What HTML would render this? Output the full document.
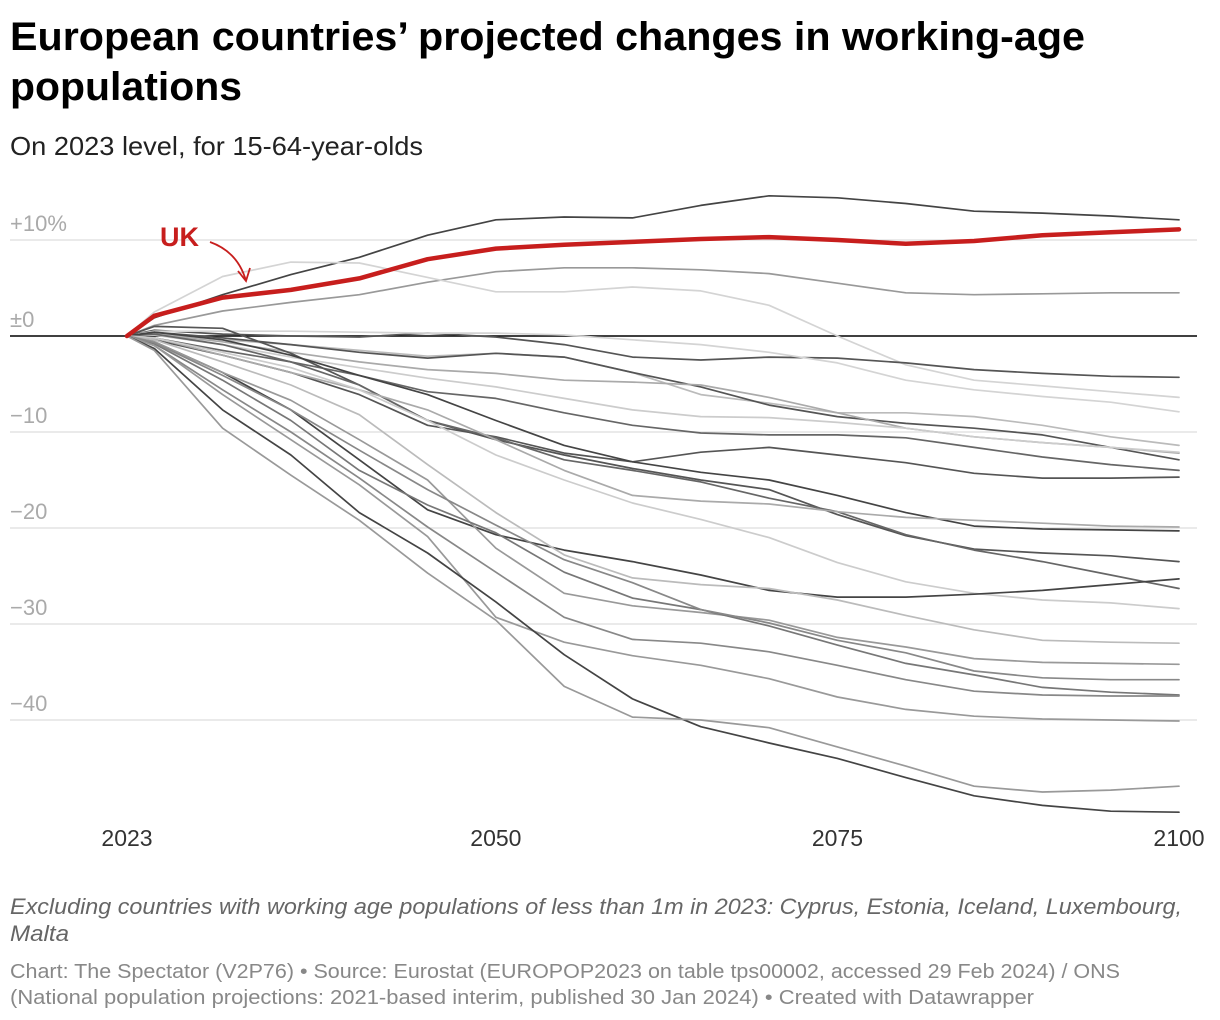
<!DOCTYPE html>
<html><head><meta charset="utf-8"><style>
html,body{margin:0;padding:0;background:#fff;}
svg{display:block;font-family:"Liberation Sans",Arial,sans-serif;}
</style></head><body>
<svg id="chart" width="1220" height="1020" viewBox="0 0 1220 1020" xmlns="http://www.w3.org/2000/svg">
<text x="10" y="50" font-size="40" font-weight="bold" fill="#000" textLength="1075" lengthAdjust="spacingAndGlyphs">European countries’ projected changes in working-age</text>
<text x="10" y="100" font-size="40" font-weight="bold" fill="#000" textLength="232" lengthAdjust="spacingAndGlyphs">populations</text>
<text x="10" y="155" font-size="26" fill="#222" textLength="413" lengthAdjust="spacingAndGlyphs">On 2023 level, for 15-64-year-olds</text>
<g id="grid"></g>
<g id="lines"></g>
<g id="xaxis"></g>
<text x="160" y="246" font-size="27" font-weight="bold" fill="#c71e1d">UK</text>
<path d="M210,242 Q238,252 246,281 M238,271 L246,281 L250,268" fill="none" stroke="#c71e1d" stroke-width="1.8"/>
<text x="10" y="914" font-size="22" font-style="italic" fill="#666" textLength="1172" lengthAdjust="spacingAndGlyphs">Excluding countries with working age populations of less than 1m in 2023: Cyprus, Estonia, Iceland, Luxembourg,</text>
<text x="10" y="941" font-size="22" font-style="italic" fill="#666" textLength="59" lengthAdjust="spacingAndGlyphs">Malta</text>
<text x="10" y="978" font-size="20" fill="#888" textLength="1110" lengthAdjust="spacingAndGlyphs">Chart: The Spectator (V2P76) • Source: Eurostat (EUROPOP2023 on table tps00002, accessed 29 Feb 2024) / ONS</text>
<text x="10" y="1004" font-size="20" fill="#888" textLength="1024" lengthAdjust="spacingAndGlyphs">(National population projections: 2021-based interim, published 30 Jan 2024) • Created with Datawrapper</text>
</svg>
<script>
const years=[2023,2025,2030,2035,2040,2045,2050,2055,2060,2065,2070,2075,2080,2085,2090,2095,2100];
const yTicks=[10,0,-10,-20,-30,-40];
const yTickLabels=["+10%","±0","−10","−20","−30","−40"];
const xTicks=[2023,2050,2075,2100];
const ukValues=[0,2.1,4.0,4.8,6.0,8.0,9.1,9.5,9.8,10.1,10.3,10.0,9.6,9.9,10.5,10.8,11.1];
const s01=[0,1.9,4.3,6.4,8.2,10.5,12.1,12.4,12.3,13.6,14.6,14.4,13.8,13.0,12.8,12.5,12.1];
const s02=[0,1.1,2.6,3.5,4.3,5.6,6.7,7.1,7.1,6.9,6.5,5.5,4.5,4.3,4.4,4.5,4.5];
const s03=[0,2.5,6.2,7.7,7.6,6.1,4.6,4.6,5.1,4.7,3.2,0,-3.0,-4.6,-5.2,-5.8,-6.4];
const s04=[0,0.6,0.2,0,-0.1,0.3,-0.1,-0.9,-2.2,-2.5,-2.2,-2.3,-2.8,-3.5,-3.9,-4.2,-4.3];
const s05=[0,0.5,0.5,0.5,0.4,0.3,0.3,0.1,-0.4,-0.9,-1.7,-2.8,-4.6,-5.6,-6.3,-6.9,-7.9];
const s07=[0,0.3,-0.4,-0.9,-1.5,-2.1,-1.8,-2.2,-3.8,-6.1,-7.0,-8.0,-8.0,-8.4,-9.3,-10.5,-11.4];
const s08=[0,0.4,-0.2,-0.9,-1.7,-2.3,-1.8,-2.2,-3.8,-5.3,-7.2,-8.4,-9.1,-9.6,-10.3,-11.6,-12.9];
const s09=[0,0.2,-0.6,-1.7,-2.7,-3.5,-3.9,-4.6,-4.8,-5.1,-6.4,-8.0,-9.6,-10.5,-11.1,-11.6,-12.2];
const s10=[0,0.1,-0.9,-2.2,-3.3,-4.4,-5.3,-6.5,-7.7,-8.4,-8.5,-9.0,-9.6,-10.5,-11.1,-11.6,-12.1];
const s11=[0,-0.2,-1.5,-2.7,-4.1,-5.8,-6.5,-8.0,-9.3,-10.1,-10.3,-10.3,-10.6,-11.6,-12.6,-13.4,-14.0];
const s12=[0,-0.4,-2.0,-3.8,-6.1,-9.3,-10.5,-12.2,-13.1,-12.1,-11.6,-12.4,-13.2,-14.3,-14.8,-14.8,-14.7];
const sA=[0,1.0,0.8,-1.8,-5.1,-8.8,-10.8,-12.4,-13.8,-15.0,-16.0,-18.6,-20.8,-22.2,-22.6,-22.9,-23.5];
const sB=[0,0.2,-0.9,-2.7,-5.1,-8.8,-10.6,-12.9,-14.0,-15.2,-16.9,-18.3,-20.7,-22.3,-23.5,-24.9,-26.3];
const sC=[0,0.4,-0.4,-2.0,-4.1,-6.1,-8.8,-11.4,-13.1,-14.2,-15.0,-16.6,-18.4,-19.8,-20.1,-20.2,-20.3];
const sD=[0,-0.2,-2.0,-3.8,-5.6,-7.7,-10.8,-14.0,-16.6,-17.2,-17.5,-18.3,-18.9,-19.2,-19.5,-19.8,-19.9];
const sE=[0,-0.2,-1.7,-3.3,-5.6,-8.8,-12.4,-15.0,-17.4,-19.1,-21.0,-23.6,-25.6,-26.8,-27.5,-27.8,-28.4];
const sF=[0,-0.6,-3.8,-7.7,-12.9,-18.1,-20.7,-22.3,-23.5,-24.9,-26.5,-27.2,-27.2,-26.9,-26.5,-25.9,-25.3];
const sG=[0,-0.4,-2.7,-5.1,-8.2,-13.4,-18.4,-22.8,-25.2,-25.9,-26.3,-27.5,-29.1,-30.6,-31.7,-31.9,-32.0];
const sH=[0,-0.6,-3.8,-6.7,-10.8,-15.0,-22.1,-26.8,-28.1,-28.8,-29.6,-31.4,-32.4,-33.6,-34.0,-34.1,-34.2];
const sI=[0,-0.8,-4.6,-8.8,-14.0,-17.6,-20.5,-24.6,-27.3,-28.5,-30.2,-32.2,-34.1,-35.3,-36.6,-37.1,-37.4];
const sJ=[0,-0.7,-4.1,-7.7,-11.9,-16.0,-19.7,-23.3,-25.7,-28.5,-29.9,-31.7,-33.0,-34.9,-35.6,-35.8,-35.8];
const sK=[0,-1.0,-5.6,-10.0,-14.8,-19.9,-24.6,-29.3,-31.6,-32.0,-32.9,-34.3,-35.8,-37.0,-37.4,-37.5,-37.5];
const sL=[0,-1.0,-6.1,-10.8,-15.5,-20.9,-29.3,-31.9,-33.3,-34.3,-35.7,-37.6,-38.9,-39.6,-39.9,-40.0,-40.1];
const sM=[0,-1.3,-7.7,-12.4,-18.4,-22.6,-27.7,-33.2,-37.8,-40.7,-42.4,-44.0,-46.0,-47.9,-48.9,-49.5,-49.6];
const sN=[0,-1.5,-9.6,-14.5,-19.2,-24.7,-29.6,-36.5,-39.7,-40.0,-40.8,-42.8,-44.8,-46.9,-47.5,-47.3,-46.9];
const greySeries=[s01,s02,s03,s04,s05,s07,s08,s09,s10,s11,s12,sA,sB,sC,sD,sE,sF,sG,sH,sI,sJ,sK,sL,sM,sN];
const greyColors=["#444","#999","#d4d4d4","#555","#d4d4d4","#bbb","#555","#aaa","#ccc","#666","#555","#555","#666","#444","#aaa","#ccc","#444","#bbb","#999","#777","#888","#888","#999","#444","#999"];

const NS="http://www.w3.org/2000/svg";
const x=y=>127+(y-2023)*(1179-127)/77;
const y=v=>336-v*9.6;
const grid=document.getElementById('grid');
yTicks.forEach((t,i)=>{
  const l=document.createElementNS(NS,'line');
  l.setAttribute('x1',10);l.setAttribute('x2',1197);
  l.setAttribute('y1',y(t));l.setAttribute('y2',y(t));
  l.setAttribute('stroke',t===0?'#000':'#e3e3e3');
  l.setAttribute('stroke-width',t===0?1.6:1.4);
  
  
  grid.appendChild(l);
  const tx=document.createElementNS(NS,'text');
  tx.setAttribute('x',10);tx.setAttribute('y',y(t)-9);
  tx.setAttribute('font-size','22');tx.setAttribute('fill','#aaa');
  tx.textContent=yTickLabels[i];
  
  
  grid.appendChild(tx);
});
const xa=document.getElementById('xaxis');
xTicks.forEach((t,i)=>{
  const tx=document.createElementNS(NS,'text');
  tx.setAttribute('x',x(t));tx.setAttribute('y',846);
  tx.setAttribute('font-size','23');tx.setAttribute('fill','#333');
  tx.setAttribute('text-anchor','middle');
  tx.textContent=t;
  
  
  xa.appendChild(tx);
});
const lg=document.getElementById('lines');
function drawLine(vals,color,w,name){
  const p=document.createElementNS(NS,'path');
  p.setAttribute('d',vals.map((v,i)=>(i?'L':'M')+x(years[i]).toFixed(1)+','+y(v).toFixed(1)).join(''));
  p.setAttribute('fill','none');p.setAttribute('stroke',color);
  p.setAttribute('stroke-width',w);p.setAttribute('stroke-linejoin','round');p.setAttribute('stroke-linecap','round');
  
  
  lg.appendChild(p);
}
greySeries.forEach((s,i)=>drawLine(s,greyColors[i],1.7,'country-line'));
drawLine(ukValues,'#c71e1d',4.5,'uk-line');
</script>
</body></html>
